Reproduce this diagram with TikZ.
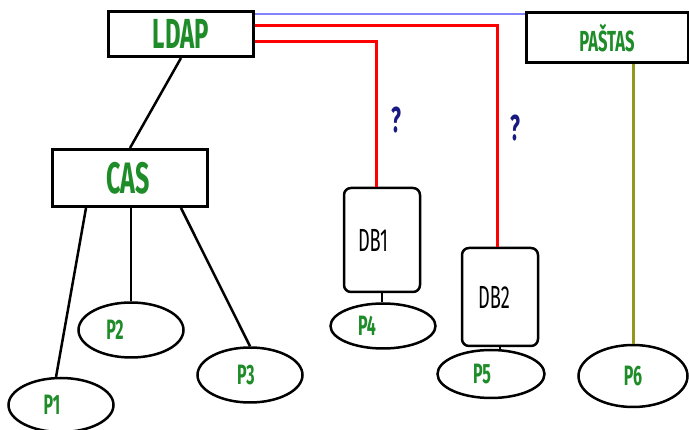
\documentclass[tikz,border=0pt]{standalone}
\usepackage{fontspec}
\setmainfont{Fira Sans}[FakeStretch=0.57]
\usetikzlibrary{shapes.geometric}

\definecolor{lblgreen}{RGB}{30,140,40}
\definecolor{qnavy}{RGB}{25,25,130}
\definecolor{olivel}{RGB}{150,150,30}
\definecolor{bluel}{RGB}{130,130,255}

\tikzset{
  box/.style={draw=black, line width=3pt, fill=white, inner sep=0pt},
  dbbox/.style={draw=black, line width=2.5pt, rounded corners=7pt, inner sep=0pt,
    minimum width=76pt, font=\fontsize{32}{32}\selectfont},
  place/.style={ellipse, draw=black, line width=2.5pt, inner sep=0pt,
    text=lblgreen, font=\fontsize{28}{28}\selectfont\bfseries},
  shove/.style={execute at end node={\hspace*{#1}}},
  link/.style={line width=2.5pt, black},
}

\begin{document}
\begin{tikzpicture}[x=1pt,y=-1pt]
\useasboundingbox (0,0) rectangle (689,430);

% top servers
\node[box, minimum width=145pt, minimum height=45pt, text=lblgreen,
  font=\fontsize{42}{42}\selectfont\bfseries] (ldap) at (181,34) {LDAP};
\node[box, minimum width=162pt, minimum height=50pt, text=lblgreen,
  font=\fontsize{29}{29}\selectfont\bfseries] (pastas) at (607,38) {PAŠTAS};
\node[box, minimum width=155pt, minimum height=57pt, text=lblgreen,
  font=\fontsize{44}{44}\selectfont\bfseries, shove=4pt] (cas) at (130,178) {CAS};

% databases
\node[dbbox, minimum height=104pt, shove=18pt] (db1) at (382,240) {DB1};
\node[dbbox, minimum height=98pt, shove=12pt] (db2) at (500,297) {DB2};

% users
\node[place, minimum width=105pt, minimum height=54pt, shove=18pt] (p1) at (61,405) {P1};
\node[place, minimum width=105pt, minimum height=55pt, shove=32pt] (p2) at (131,330) {P2};
\node[place, minimum width=105pt, minimum height=55pt, shove=8pt] (p3) at (250,375) {P3};
\node[place, minimum width=105pt, minimum height=45pt, shove=32pt] (p4) at (383,326) {P4};
\node[place, minimum width=107pt, minimum height=48pt, shove=18pt] (p5) at (491,374) {P5};
\node[place, minimum width=109pt, minimum height=62pt] (p6) at (633,376) {P6};

% links
\draw[link] (ldap.south) -- (cas.north);
\draw[link] ([xshift=35pt]cas.south west) -- (p1.100);
\draw[link] (cas.south -| p2.north) -- (p2.north);
\draw[link] ([xshift=-28pt]cas.south east) -- (p3.north);
\draw[link] (db1.south) -- (db1.south |- p4.north);
\draw[link] (db2.south) -- (db2.south |- p5.north);
\draw[line width=3pt, olivel] (p6.north |- pastas.south) -- (p6.north);

\draw[bluel, line width=1.2pt] ([yshift=-4pt]ldap.north east) -- ([yshift=-4pt]ldap.north east -| pastas.west);
\draw[red, line width=3pt] ([yshift=-16pt]ldap.north east) -| ([xshift=-3pt]db2.north);
\draw[red, line width=3pt] ([yshift=-32pt]ldap.north east) -| ([xshift=-6pt]db1.north);

\node[text=qnavy, font=\fontsize{36}{36}\selectfont\bfseries] (q1) at (396,120) {?};
\node[text=qnavy, font=\fontsize{36}{36}\selectfont\bfseries] (q2) at (515,128) {?};
\end{tikzpicture}
\end{document}
